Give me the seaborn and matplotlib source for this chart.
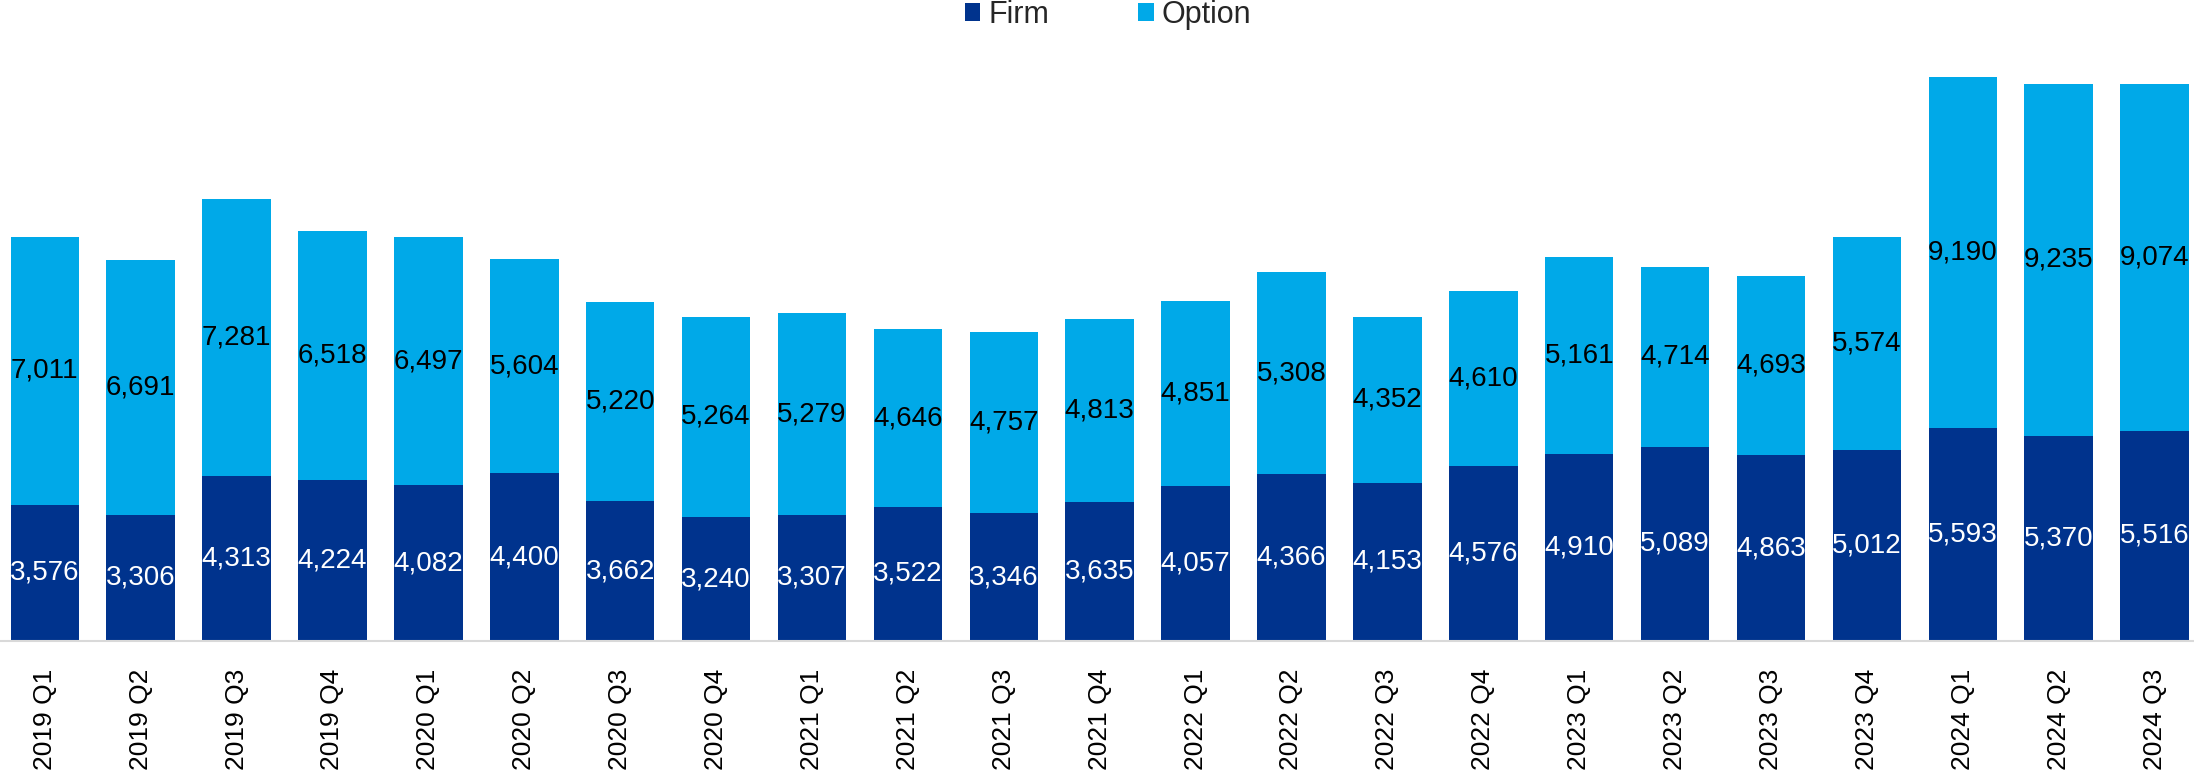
import matplotlib
matplotlib.use("Agg")
import matplotlib.pyplot as plt
from matplotlib.patches import Patch
import numpy as np
import pandas as pd
import seaborn as sns

# Quarterly volumes split into firm orders and options
quarters = [
    "2019 Q1", "2019 Q2", "2019 Q3", "2019 Q4",
    "2020 Q1", "2020 Q2", "2020 Q3", "2020 Q4",
    "2021 Q1", "2021 Q2", "2021 Q3", "2021 Q4",
    "2022 Q1", "2022 Q2", "2022 Q3", "2022 Q4",
    "2023 Q1", "2023 Q2", "2023 Q3", "2023 Q4",
    "2024 Q1", "2024 Q2", "2024 Q3",
]
firm = [3576, 3306, 4313, 4224, 4082, 4400, 3662, 3240, 3307, 3522, 3346, 3635,
        4057, 4366, 4153, 4576, 4910, 5089, 4863, 5012, 5593, 5370, 5516]
option = [7011, 6691, 7281, 6518, 6497, 5604, 5220, 5264, 5279, 4646, 4757, 4813,
          4851, 5308, 4352, 4610, 5161, 4714, 4693, 5574, 9190, 9235, 9074]

FIRM_COLOR = "#00338D"
OPTION_COLOR = "#00A9E8"

sns.set_style("white")
plt.rcParams["font.family"] = ["Liberation Sans", "DejaVu Sans"]

df = pd.DataFrame({"quarter": quarters, "firm": firm, "option": option})
df["total"] = df["firm"] + df["option"]

fig = plt.figure(figsize=(21.94, 7.75), dpi=100)
ax = fig.add_axes([0.0, 0.1729, 1.0, 0.7876])

bar_w = 0.715
# Stacked look: full total in option colour, firm drawn over its lower part
sns.barplot(data=df, x="quarter", y="total", order=quarters, color=OPTION_COLOR,
            width=bar_w, saturation=1, linewidth=0, ax=ax)
sns.barplot(data=df, x="quarter", y="firm", order=quarters, color=FIRM_COLOR,
            width=bar_w, saturation=1, linewidth=0, ax=ax)

for i, (f, o) in enumerate(zip(firm, option)):
    ax.text(i, f / 2, f"{f:,}", ha="center", va="center", color="white", fontsize=20)
    ax.text(i, f + o / 2, f"{o:,}", ha="center", va="center", color="black", fontsize=20)

ax.set_xlim(-0.467, 22.411)
ax.set_ylim(0, 16000)
ax.set_xlabel("")
ax.set_ylabel("")
ax.set_yticks([])
ax.tick_params(axis="x", length=0, pad=20, labelsize=19, labelcolor="black")
for lbl in ax.get_xticklabels():
    lbl.set_rotation(90)

for side in ["left", "right", "top"]:
    ax.spines[side].set_visible(False)
ax.spines["bottom"].set_color("#D9D9D9")
ax.spines["bottom"].set_linewidth(1.5)

handles = [Patch(facecolor=FIRM_COLOR, edgecolor="none", label="Firm"),
           Patch(facecolor=OPTION_COLOR, edgecolor="none", label="Option")]
fig.legend(handles=handles, loc="center", bbox_to_anchor=(0.505, 0.981), ncol=2,
           frameon=False, fontsize=22, handlelength=0.52, handleheight=0.52,
           handletextpad=0.26, columnspacing=2.9, borderpad=0, borderaxespad=0)

fig.savefig("out.png", dpi=100)
